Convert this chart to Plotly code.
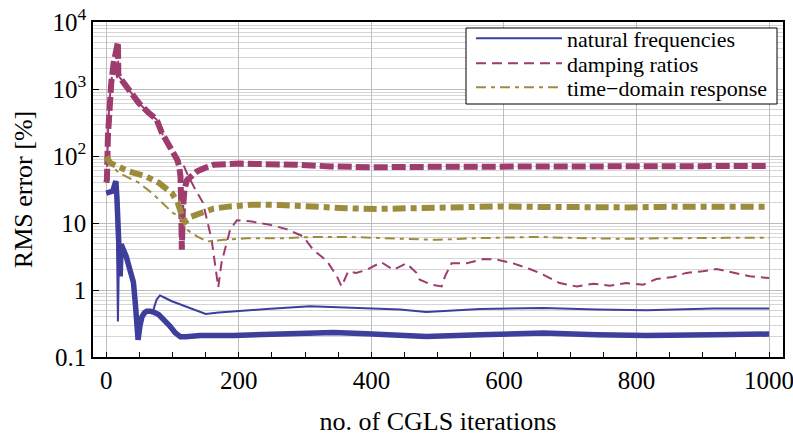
import plotly.graph_objects as go

# ---------------- data ----------------
nf_thick_it = [0, 5, 10, 13, 14.5, 16, 18, 21, 22.5, 24, 30, 34, 39, 41, 44, 46, 48, 51, 54, 58,
               61, 66, 71, 79, 88, 96, 104, 112, 120, 142, 192, 242, 292, 343, 393, 443, 483, 564,
               659, 740, 815, 916, 1000]
nf_thick_v = [28, 29, 30, 38, 42, 25, 6, 1.6, 4.8, 4.5, 3.2, 2.3, 1.6, 1.3, 0.6, 0.25, 0.18, 0.3, 0.4, 0.46,
              0.48, 0.48, 0.47, 0.43, 0.36, 0.29, 0.23, 0.2, 0.2, 0.21, 0.21, 0.215, 0.228, 0.233, 0.223, 0.215, 0.203, 0.215,
              0.228, 0.215, 0.21, 0.215, 0.22]

nf_thin_it = [0, 5, 10, 13, 14.5, 16, 17.6, 19, 22.5, 24, 30, 34, 39, 41, 44, 46, 48, 51, 54, 58,
              61, 66, 71, 76, 81, 85, 89, 99, 110, 119, 135, 150, 170, 192, 242, 307, 393, 443, 483,
              564, 659, 740, 815, 916, 1000]
nf_thin_v = [28, 29, 30, 38, 42, 8, 0.34, 2.5, 4.8, 4.5, 3.2, 2.3, 1.6, 1.3, 0.6, 0.25, 0.18, 0.3, 0.4, 0.46,
             0.48, 0.48, 0.5, 0.72, 0.83, 0.8, 0.76, 0.68, 0.62, 0.57, 0.5, 0.44, 0.46, 0.48, 0.52, 0.57, 0.54, 0.51, 0.47,
             0.52, 0.54, 0.51, 0.5, 0.53, 0.53]

dr_thick_it = [0, 1, 2.5, 4.5, 7.5, 11, 16, 17.6, 18.2, 19, 34, 49, 64, 76, 84, 96, 107, 110, 112, 113, 114,
               115.5, 118, 122, 130, 137, 150, 162, 202, 247, 287, 338, 403, 500, 600, 700, 800, 900, 1000]
dr_thick_v = [40, 44, 196, 620, 1220, 2400, 4600, 5000, 1700, 1550, 980, 620, 440, 350, 220, 140, 88, 70, 50, 20, 4,
              15, 32, 44, 53, 59, 67, 74, 77, 77, 74, 70, 68, 69, 70, 71, 71, 71, 71]

dr_thin_it = [0, 1, 2.5, 4.5, 7.5, 11, 16, 17.6, 18.2, 19, 34, 49, 64, 76, 84, 96, 107, 114, 122, 132, 146,
              159, 169, 174, 187, 197, 217, 247, 272, 297, 312, 333, 348, 355, 365, 377, 393, 415, 433, 453,
              468, 473, 491, 506, 511, 521, 544, 569, 589, 614, 639, 659, 684, 710, 735, 760, 785, 810, 830,
              855, 875, 900, 921, 946, 971, 1000]
dr_thin_v = [40, 44, 196, 620, 1220, 2400, 4600, 5000, 1700, 1550, 980, 620, 440, 350, 220, 140, 88, 83, 55, 35, 20,
             5.6, 1.1, 2.6, 8, 11, 10.6, 9.4, 8.1, 6.3, 4, 2.7, 1.6, 1.13, 1.9, 1.8, 2.0, 2.6, 2.0, 2.5,
             1.8, 1.42, 1.2, 1.13, 1.6, 2.5, 2.5, 2.9, 2.85, 2.5, 2.06, 1.7, 1.27, 1.13, 1.24, 1.16, 1.27, 1.2, 1.46,
             1.56, 1.8, 1.9, 2.06, 1.83, 1.6, 1.51]

td_thick_it = [0, 6, 20, 34, 59, 79, 99, 108, 112, 116, 120, 127, 142, 162, 187, 222, 262, 312, 363, 408, 448,
               498, 549, 599, 649, 700, 735, 785, 835, 885, 936, 1000]
td_thick_v = [98, 79, 68, 59, 50, 40, 28, 20, 15, 11.5, 10.6, 12.3, 14, 16.4, 17.7, 18.8, 18.6, 17.4, 16.6, 16.2, 16.6,
              16.6, 17.4, 17.7, 17.4, 17.1, 17.0, 17.1, 17.4, 17.7, 17.5, 17.5]

td_thin_it = [0, 6, 19, 34, 49, 69, 84, 101, 111, 122, 137, 152, 177, 212, 262, 312, 363, 408, 448, 499, 549,
              599, 649, 699, 735, 785, 835, 885, 936, 1000]
td_thin_v = [95, 75, 56, 47, 40, 28, 20, 14, 12.5, 7.9, 6.3, 5.3, 5.6, 5.9, 5.9, 6.2, 6.2, 6.0, 5.8, 5.6, 5.9,
             6.0, 6.2, 6.0, 5.9, 5.8, 5.9, 6.0, 6.0, 6.0]

series_names = ["natural frequencies", "damping ratios", "time\u2212domain response"]
y_tickvals = [0.1, 1, 10, 100, 1000, 10000]
y_ticktext = ["0.1", "1", "10", "10<sup>2</sup>", "10<sup>3</sup>", "10<sup>4</sup>"]
x_tickvals = [0, 200, 400, 600, 800, 1000]

BLUE = "#3e3e9c"
MAG = "#9e3c6e"
OLIVE = "#9c8c3c"
FONT = "'Liberation Serif', 'Times New Roman', Times, serif"

fig = go.Figure()
fig.add_trace(go.Scatter(x=nf_thick_it, y=nf_thick_v, mode="lines", showlegend=False,
                         line=dict(color=BLUE, width=5.5)))
fig.add_trace(go.Scatter(x=nf_thin_it, y=nf_thin_v, mode="lines", name=series_names[0],
                         legend="legend", line=dict(color=BLUE, width=2)))
fig.add_trace(go.Scatter(x=dr_thick_it, y=dr_thick_v, mode="lines", showlegend=False,
                         line=dict(color=MAG, width=6, dash="14px,4px")))
fig.add_trace(go.Scatter(x=dr_thin_it, y=dr_thin_v, mode="lines", name=series_names[1],
                         legend="legend2", line=dict(color=MAG, width=2, dash="10px,6px")))
fig.add_trace(go.Scatter(x=td_thick_it, y=td_thick_v, mode="lines", showlegend=False,
                         line=dict(color=OLIVE, width=6, dash="13px,5px,6px,5px")))
fig.add_trace(go.Scatter(x=td_thin_it, y=td_thin_v, mode="lines", name=series_names[2],
                         legend="legend3", line=dict(color=OLIVE, width=2, dash="10px,5px,4px,5px")))

# plot area in px: x 93..783, y 22..357
PX0, PX1, PY0, PY1 = 93, 783, 22, 357
def px_x(p):
    return (p - PX0) / (PX1 - PX0)
def px_y(p):
    return (PY1 - p) / (PY1 - PY0)

leg_common = dict(xanchor="left", yanchor="middle", bgcolor="rgba(0,0,0,0)", borderwidth=0,
                  font=dict(family=FONT, size=22), itemwidth=86)
row_centers = [38.5, 63.5, 87.5]
LEG_X = 471

fig.update_layout(
    width=793, height=436,
    margin=dict(l=PX0, r=793 - PX1, t=PY0, b=436 - PY1, autoexpand=False),
    paper_bgcolor="white", plot_bgcolor="white",
    font=dict(family=FONT, size=25, color="black"),
    legend=dict(x=px_x(LEG_X), y=px_y(row_centers[0]), **leg_common),
    legend2=dict(x=px_x(LEG_X), y=px_y(row_centers[1]), **leg_common),
    legend3=dict(x=px_x(LEG_X), y=px_y(row_centers[2]), **leg_common),
    shapes=[dict(type="rect", xref="paper", yref="paper",
                 x0=px_x(466), x1=px_x(777), y0=px_y(104), y1=px_y(28),
                 line=dict(color="black", width=1), fillcolor="white", layer="above")],
)
fig.update_xaxes(
    range=[-20, 1021], tickvals=x_tickvals, ticks="inside", ticklen=5, tickcolor="black",
    showline=True, linecolor="black", linewidth=1.5, mirror=True, automargin=False,
    ticklabeloverflow="allow",
    showgrid=True, gridcolor="#bdbdbd", gridwidth=1, zeroline=False,
    minor=dict(dtick=50, tick0=0, ticks="inside", ticklen=5, tickcolor="black", showgrid=False),
    title=dict(text="no. of CGLS iterations", font=dict(family=FONT, size=26), standoff=26),
    tickfont=dict(family=FONT, size=25),
)
fig.update_yaxes(
    type="log", range=[-1, 4], tickvals=y_tickvals, ticktext=y_ticktext,
    ticks="inside", ticklen=6, tickcolor="black",
    showline=True, linecolor="black", linewidth=1.5, mirror=True, automargin=False,
    ticklabeloverflow="allow",
    showgrid=True, gridcolor="#bdbdbd", gridwidth=1, zeroline=False,
    minor=dict(dtick="D1", showgrid=True, gridcolor="#d6d6d6", gridwidth=1, ticks=""),
    title=dict(text="RMS error [%]", font=dict(family=FONT, size=26), standoff=12),
    tickfont=dict(family=FONT, size=25),
)
fig.write_html("out.html")
